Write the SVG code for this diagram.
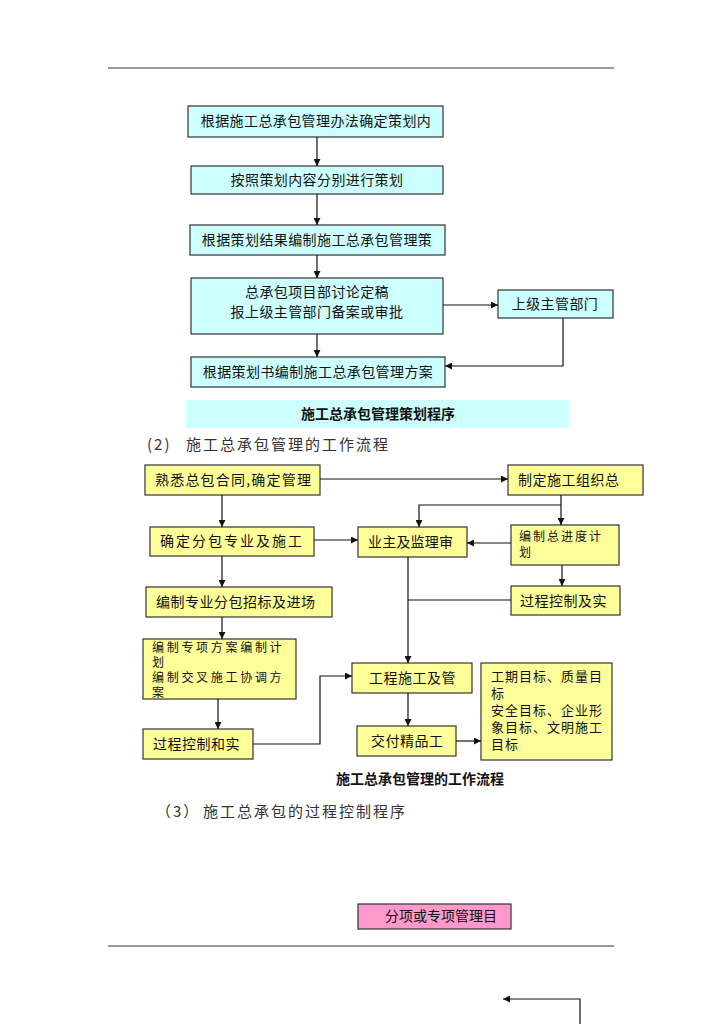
<svg xmlns="http://www.w3.org/2000/svg" width="724" height="1024" viewBox="0 0 724 1024">
<style>
.c{fill:#CCFFFF;stroke:#333;stroke-width:1.2}
.y{fill:#FFFF99;stroke:#333;stroke-width:1.2}
.p{fill:#FF99CC;stroke:#333;stroke-width:1.2}
text{font-family:"Noto Sans CJK SC","Liberation Sans",sans-serif;font-size:14px;fill:#111}
.m{text-anchor:middle}
.b{font-weight:bold}
.s{font-size:12px}
.k{font-size:13px;letter-spacing:1px}
.h{font-size:15px;fill:#333;letter-spacing:2px}
.l{stroke:#111;stroke-width:1.2;fill:none}
</style>
<defs>
<marker id="a" viewBox="0 0 10 10" refX="10" refY="5" markerWidth="7" markerHeight="7" orient="auto" markerUnits="userSpaceOnUse"><path d="M0,0L10,5L0,10z" fill="#111"/></marker>
<clipPath id="cpH"><rect x="143" y="639" width="153" height="60"/></clipPath>
<clipPath id="cpE"><rect x="511" y="525" width="108" height="40"/></clipPath>
</defs>
<line x1="108" y1="68" x2="614" y2="68" stroke="#333" stroke-width="1"/>
<line x1="108" y1="946" x2="614" y2="946" stroke="#333" stroke-width="1"/>

<g id="n1"><rect class="c" x="188" y="106" width="255" height="31"/><text class="m" x="316" y="126" letter-spacing="0.4">根据施工总承包管理办法确定策划内</text></g>
<g id="n2"><rect class="c" x="191" y="166" width="252" height="28"/><text class="m" x="317" y="185" letter-spacing="0.4">按照策划内容分别进行策划</text></g>
<g id="n3"><rect class="c" x="190" y="225" width="255" height="30"/><text class="m" x="317" y="245" letter-spacing="0.4">根据策划结果编制施工总承包管理策</text></g>
<g id="n4"><rect class="c" x="191" y="278" width="252" height="56"/><text class="m" x="317" y="297" letter-spacing="0.4">总承包项目部讨论定稿</text><text class="m" x="317" y="317" letter-spacing="0.4">报上级主管部门备案或审批</text></g>
<g id="n5"><rect class="c" x="498" y="290" width="115" height="28"/><text class="m" x="555" y="309" letter-spacing="0.4">上级主管部门</text></g>
<g id="n6"><rect class="c" x="191" y="357" width="254" height="30"/><text class="m" x="318" y="377" letter-spacing="0.4">根据策划书编制施工总承包管理方案</text></g>
<g id="t1"><rect x="186" y="400" width="383" height="28" fill="#CCFFFF"/><text class="m b" x="378" y="419">施工总承包管理策划程序</text></g>

<text class="h" x="147" y="450" letter-spacing="0">(2)</text>
<text class="h" x="186" y="450">施工总承包管理的工作流程</text>

<g id="nA"><rect class="y" x="145" y="465" width="175" height="30"/><text x="155" y="485" letter-spacing="1.2">熟悉总包合同,确定管理</text></g>
<g id="nB"><rect class="y" x="508" y="465" width="135" height="30"/><text x="518" y="485" letter-spacing="0.5">制定施工组织总</text></g>
<g id="nC"><rect class="y" x="150" y="527" width="164" height="29"/><text x="160" y="546" letter-spacing="2">确定分包专业及施工</text></g>
<g id="nD"><rect class="y" x="358" y="527" width="109" height="30"/><text x="368" y="547" letter-spacing="0.2">业主及监理审</text></g>
<g id="nE"><rect class="y" x="511" y="525" width="108" height="40"/><g clip-path="url(#cpE)"><text class="s" x="519" y="541" letter-spacing="2">编制总进度计</text><text class="s" x="519" y="557">划</text></g></g>
<g id="nF"><rect class="y" x="146" y="587" width="186" height="30"/><text x="156" y="607" letter-spacing="0.5">编制专业分包招标及进场</text></g>
<g id="nG"><rect class="y" x="511" y="586" width="109" height="29"/><text x="520" y="606" letter-spacing="0.5">过程控制及实</text></g>
<g id="nH"><rect class="y" x="143" y="639" width="153" height="60"/><g clip-path="url(#cpH)"><text class="s" x="152" y="652" letter-spacing="2.7">编制专项方案编制计</text><text class="s" x="152" y="667">划</text><text class="s" x="152" y="682" letter-spacing="2.7">编制交叉施工协调方</text><text class="s" x="152" y="697">案</text></g></g>
<g id="nI"><rect class="y" x="143" y="729" width="110" height="30"/><text x="153" y="749" letter-spacing="0.5">过程控制和实</text></g>
<g id="nJ"><rect class="y" x="352" y="663" width="120" height="30"/><text x="369" y="683" letter-spacing="0.5">工程施工及管</text></g>
<g id="nK"><rect class="y" x="481" y="663" width="131" height="97"/><text class="k" x="491" y="681">工期目标、质量目</text><text class="k" x="491" y="698">标</text><text class="k" x="491" y="715">安全目标、企业形</text><text class="k" x="491" y="732">象目标、文明施工</text><text class="k" x="491" y="749">目标</text></g>
<g id="nL"><rect class="y" x="357" y="726" width="99" height="30"/><text x="371" y="746" letter-spacing="0.5">交付精品工</text></g>
<text class="m b" x="420" y="784">施工总承包管理的工作流程</text>

<text class="h" x="156" y="817" letter-spacing="0">（3）</text>
<text class="h" x="203" y="817">施工总承包的过程控制程序</text>

<g id="nP"><rect class="p" x="358" y="904" width="153" height="25"/><text x="385" y="921">分项或专项管理目</text></g>

<g id="connectors">
<line class="l" x1="317" y1="137" x2="317" y2="166" marker-end="url(#a)"/>
<line class="l" x1="317" y1="194" x2="317" y2="225" marker-end="url(#a)"/>
<line class="l" x1="317" y1="255" x2="317" y2="278" marker-end="url(#a)"/>
<line class="l" x1="317" y1="334" x2="317" y2="357" marker-end="url(#a)"/>
<line class="l" x1="443" y1="305" x2="498" y2="305" marker-end="url(#a)"/>
<polyline class="l" points="563,318 563,366 445,366" marker-end="url(#a)"/>

<line class="l" x1="320" y1="479" x2="508" y2="479" marker-end="url(#a)"/>
<line class="l" x1="222" y1="495" x2="222" y2="527" marker-end="url(#a)"/>
<line class="l" x1="314" y1="540" x2="358" y2="540" marker-end="url(#a)"/>
<line class="l" x1="561" y1="495" x2="561" y2="525" marker-end="url(#a)"/>
<polyline class="l" points="561,505 419,505 419,527" marker-end="url(#a)"/>
<line class="l" x1="511" y1="543" x2="467" y2="543" marker-end="url(#a)"/>
<line class="l" x1="562" y1="565" x2="562" y2="586" marker-end="url(#a)"/>
<line class="l" x1="408" y1="557" x2="408" y2="663" marker-end="url(#a)"/>
<line class="l" x1="511" y1="600" x2="408" y2="600"/>
<line class="l" x1="222" y1="556" x2="222" y2="587" marker-end="url(#a)"/>
<line class="l" x1="222" y1="617" x2="222" y2="639" marker-end="url(#a)"/>
<line class="l" x1="218" y1="699" x2="218" y2="729" marker-end="url(#a)"/>
<polyline class="l" points="253,744 320,744 320,676 352,676" marker-end="url(#a)"/>
<line class="l" x1="408" y1="693" x2="408" y2="726" marker-end="url(#a)"/>
<line class="l" x1="456" y1="741" x2="481" y2="741" marker-end="url(#a)"/>

<polyline class="l" points="580,1024 580,999 503,999" marker-end="url(#a)"/>
</g>
</svg>
